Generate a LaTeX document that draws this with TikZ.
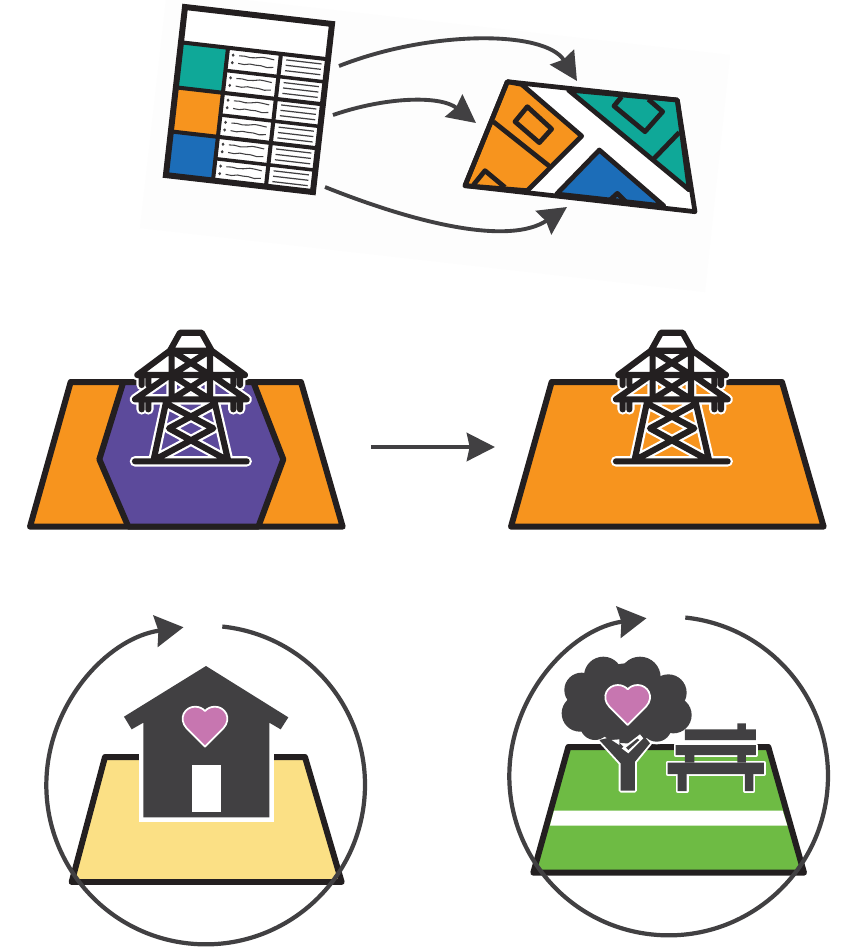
\documentclass[tikz,border=0pt]{standalone}
\usepackage{tikz}
\usetikzlibrary{arrows.meta,decorations.pathmorphing}
\definecolor{MapInk}{HTML}{231F20}
\definecolor{MapGrey}{HTML}{414042}
\definecolor{MapTeal}{HTML}{0FA898}
\definecolor{MapOrange}{HTML}{F7941E}
\definecolor{MapBlue}{HTML}{1C6DB8}
\definecolor{MapPurple}{HTML}{5C4A9B}
\definecolor{MapYellow}{HTML}{FBE085}
\definecolor{MapGreen}{HTML}{6EBB44}
\definecolor{MapPink}{HTML}{C776B0}
\definecolor{MapPaper}{HTML}{FDFDFD}
\newcommand{\pylonpath}{(480,38)--(545,38)--(575,92)--(450,92)--cycle
  (450,92)--(352,165)--(675,165)--(575,92)
  (450,165)--(345,238)--(680,238)--(575,165)
  (455,92)--(455,238) (570,92)--(570,238)
  (455,92)--(570,165)--(455,238) (570,92)--(455,165)--(570,238)
  (365,165)--(365,195) (385,165)--(385,195) (640,165)--(640,195) (660,165)--(660,195)
  (365,238)--(365,268) (385,238)--(385,268) (640,238)--(640,268) (660,238)--(660,268)
  (440,238)--(400,424) (582,238)--(625,424)
  (447,255)--(580,325)--(412,415) (577,255)--(447,325)--(612,415)
  (345,424)--(680,424)}
\newcommand{\pylon}{%
  \draw[white,line width=3pt,line cap=round,line join=round] \pylonpath;
  \draw[MapInk,line width=1.75pt,line cap=round,line join=round] \pylonpath;}
\newcommand{\loveheart}[1]{%
  \draw[fill=MapPink,draw=white,line width=.5pt,line join=round,shift={#1}]
    (0,70)--(-55,15) .. controls (-82,-15) and (-60,-50) .. (-30,-50)
    .. controls (-15,-50) and (-5,-43) .. (0,-37)
    .. controls (5,-43) and (15,-50) .. (30,-50)
    .. controls (60,-50) and (82,-15) .. (55,15)--cycle;}
\newcommand{\crown}{310/228/58,420/232/62,245/270/52,505/278/55,240/340/55,520/345/55,285/375/45,470/380/45,380/310/120,300/300/80,450/310/80}
\begin{document}
\begin{tikzpicture}[x=.01cm,y=-.01cm]
\tikzset{a/.style={-{Stealth[length=8pt,width=8pt,inset=.8pt]},MapGrey,line width=1.1pt},
  loop/.style={-{Stealth[length=8pt,width=9pt,inset=.8pt]},MapGrey,line width=1.2pt},
  plot/.style={draw=MapInk,line width=1.7pt,line join=round},
  edge/.style={draw=MapInk,line width=1.35pt,line join=round},
  dark/.style={fill=MapGrey},
  halo/.style={draw=white,line width=1.1pt,line join=round,fill=white}}
\useasboundingbox (0,0) rectangle (843,947);
\fill[white] (0,0) rectangle (843,947);
\fill[MapPaper] (166,0)--(245,0)--(730,55)--(705,292)--(140,228)--cycle;
% table
\begin{scope}[shift={(185,7)},x={(.0147cm,-.0017cm)},y={(-.0019cm,-.0168cm)}]
\fill[white] (0,0)--(100,0)--(100,100)--(0,100)--cycle;
\fill[MapTeal] (0,21)--(32,21)--(32,47.8)--(0,47.8)--cycle;
\fill[MapOrange] (0,47.8)--(32,47.8)--(32,74)--(0,74)--cycle;
\fill[MapBlue] (0,74)--(32,74)--(32,100)--(0,100)--cycle;
\foreach \r in {21,34.5,47.8,61,74,87}{
  \pgfmathsetseed{7}
  \fill[MapGrey] (36,\r+4) circle (1);
  \fill[MapGrey] (36,\r+8.5) circle (1);
  \draw[MapGrey,line width=.3pt,decorate,decoration={random steps,segment length=1.6pt,amplitude=.35pt}] (40,\r+4)--(64,\r+4);
  \draw[MapGrey,line width=.3pt,decorate,decoration={random steps,segment length=1.6pt,amplitude=.35pt}] (40,\r+8.5)--(64,\r+8.5);
  \foreach \l in {3.2,6.4,9.6}
    \draw[MapGrey,line width=.35pt] (72,\r+\l)--(96,\r+\l);
}
\draw[MapInk,line width=1pt] (32,34.5)--(100,34.5) (32,61)--(100,61) (32,87)--(100,87);
\draw[MapInk,line width=1.15pt] (32,21)--(32,100) (68,21)--(68,100) (0,47.8)--(100,47.8) (0,74)--(100,74) (0,21)--(100,21);
\draw[MapInk,line width=1.7pt,line join=miter] (0,0)--(100,0)--(100,100)--(0,100)--cycle;
\end{scope}
% map
\begin{scope}[shift={(440,50)},scale=1/3]
\fill[white] (202,95)--(712,150)--(765,485)--(75,407)--cycle;
\draw[edge,fill=MapOrange] (202,95)--(245,103)--(425,258)--(262,422)--(75,407)--cycle;
\draw[edge] (160,215)--(330,350);
\draw[edge] (262,170)--(335,237)--(298,278)--(225,215)--cycle;
\draw[edge] (100,405)--(135,362)--(195,412);
\draw[edge,fill=MapTeal] (385,120)--(712,150)--(748,420)--cycle;
\draw[edge] (545,140)--(522,168)--(615,245)--(668,185)--(625,148);
\draw[edge] (640,328)--(718,247);
\draw[edge,fill=MapBlue] (478,300)--(350,432)--(672,468)--cycle;
\draw[edge] (510,450)--(532,430)--(560,458);
\draw[edge] (202,95)--(712,150)--(765,485)--(75,407)--cycle;
\end{scope}
% arrows table to map
\coordinate (tableA) at (339,66);
\coordinate (tableB) at (333,115);
\coordinate (tableC) at (325,187);
\coordinate (mapA) at (577,81);
\coordinate (mapB) at (476,123);
\coordinate (mapC) at (567,207);
\draw[a] (tableA) .. controls (430,30) and (545,30) .. (mapA);
\draw[a] (tableB) .. controls (385,97) and (440,95) .. (mapB);
\draw[a] (tableC) .. controls (420,225) and (510,245) .. (mapC);
% land with pylon
\begin{scope}[shift={(20,320)},scale=1/3]
\draw[plot,fill=MapOrange] (30,620)--(968,620)--(843,186)--(152,186)--cycle;
\draw[plot,fill=MapPurple] (310,186)--(238,418)--(325,620)--(715,620)--(790,418)--(700,186)--cycle;
\pylon
\end{scope}
% land after
\begin{scope}[shift={(501,320)},scale=1/3]
\draw[plot,fill=MapOrange] (30,620)--(968,620)--(843,186)--(152,186)--cycle;
\pylon
\end{scope}
\coordinate (moveA) at (371,447);
\coordinate (moveB) at (495,447);
\draw[-{Stealth[length=8pt,width=8pt,inset=.8pt]},MapGrey,line width=1.2pt] (moveA)--(moveB);
% house
\begin{scope}[shift={(40,610)},scale=1/3]
\draw[plot,fill=MapYellow] (95,816)--(905,816)--(795,441)--(195,441)--cycle;
\fill[white] (296,425) rectangle (702,637);
\fill[dark] (498,168)--(745,322)--(722,358)--(688,338)--(688,622)--(310,622)--(310,338)--(275,358)--(252,320)--cycle;
\fill[white] (455,465) rectangle (542,606);
\loveheart{(495,340)}
\coordinate (homeC) at (497,525);
\draw[loop] (homeC) ++(84:478 and -478) arc[start angle=84,end angle=-262,x radius=478,y radius=-478];
\end{scope}
% park
\begin{scope}[shift={(500,600)},scale=1/3]
\draw[plot,fill=MapGreen] (100,818)--(912,818)--(805,441)--(205,441)--cycle;
\fill[white] (162,632)--(848,632)--(862,677)--(150,677)--cycle;
\foreach \cx/\cy/\cr in \crown
  \fill[white] (\cx,\cy) circle (\cr+8);
\draw[halo] (362,572)--(362,490)--(298,420)--(450,430)--(405,485)--(405,572)--cycle;
\foreach \cx/\cy/\cr in \crown
  \fill[dark] (\cx,\cy) circle (\cr);
\fill[dark] (362,572)--(362,490)--(298,420)--(340,410)--(385,455)--(430,405)--(450,430)--(405,485)--(405,572)--cycle;
\fill[white] (335,420)--(358,418)--(358,435)--cycle;
\fill[white] (365,445)--(420,403)--(430,415)--(385,460)--cycle;
\fill[dark] (378,443)--(412,416)--(418,420)--(385,450)--cycle;
\draw[halo] (527,435) rectangle (768,465) (503,488) rectangle (792,522)
  (533,522) rectangle (560,573) (735,522) rectangle (760,573);
\fill[dark] (555,388) rectangle (768,420) (712,370) rectangle (738,388);
\fill[dark] (527,435) rectangle (768,465) (503,488) rectangle (792,522);
\fill[dark] (555,465) rectangle (583,488) (712,465) rectangle (738,488);
\fill[dark] (533,522) rectangle (560,573) (735,522) rectangle (760,573);
\loveheart{(383,305)}
\coordinate (parkC) at (506,528);
\draw[loop] (parkC) ++(84:478 and -478) arc[start angle=84,end angle=-262,x radius=478,y radius=-478];
\end{scope}
\end{tikzpicture}
\end{document}
